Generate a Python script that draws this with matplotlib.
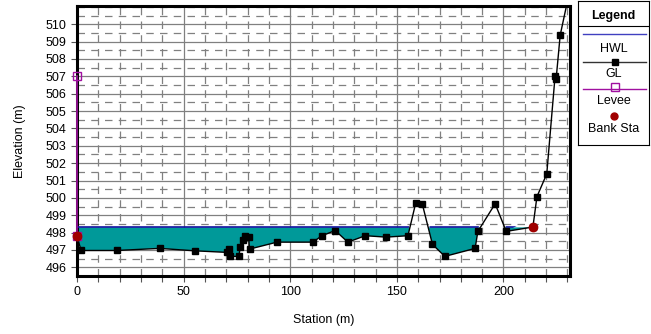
import matplotlib
matplotlib.use("Agg")
import matplotlib.pyplot as plt
from matplotlib.path import Path
from matplotlib.ticker import MultipleLocator
import numpy as np

plt.rcParams['font.family'] = ['Liberation Sans', 'DejaVu Sans']

# ground profile (station m, elevation m)
station = np.array([0, 1.9, 18.7, 38.7, 55.3, 70.3, 71.1, 71.6, 75.9, 76.6, 77.8, 79.0,
                    80.5, 80.9, 93.8, 110.6, 114.9, 121.1, 127.0, 135.2, 145.0, 155.2,
                    158.9, 161.9, 166.7, 172.5, 186.7, 188.0, 196.1, 201.3, 213.8, 215.7,
                    220.3, 224.2, 224.7, 226.6, 231.0])
ground = np.array([497.8, 496.97, 496.97, 497.09, 496.95, 496.86, 497.07, 496.63, 496.63,
                   497.17, 497.55, 497.82, 497.74, 497.05, 497.45, 497.45, 497.82, 498.12,
                   497.45, 497.82, 497.74, 497.82, 499.73, 499.66, 497.32, 496.63, 497.09,
                   498.07, 499.66, 498.07, 498.32, 500.07, 501.38, 507.01, 506.86, 509.37,
                   511.9])

hwl = 498.3
hwl_sta = [0, 213.8]

levee_sta = [0, 0]
levee_elev = [497.8, 507.0]

bank_sta = [0, 213.8]
bank_elev = [497.8, 498.32]

yticks = np.arange(496, 511)

teal = '#009999'
blue = '#1010a0'
purple = '#a010a0'
red = '#a00000'

fig = plt.figure(figsize=(6.51, 3.34), dpi=100)
ax = fig.add_axes([77 / 651, 1 - 276 / 334, 493 / 651, 270 / 334])

ax.set_xlim(0, 231.2)
ax.set_ylim(495.52, 511.05)
ax.xaxis.set_major_locator(MultipleLocator(50))
ax.xaxis.set_minor_locator(MultipleLocator(10))
ax.set_yticks(yticks)
ax.set_yticks(np.arange(495.5, 511.1, 0.5), minor=True)
ax.grid(which='major', color='#808080', lw=0.9, ls='-')
ax.grid(which='minor', color='#808080', lw=0.9, ls=(0, (6, 5)))
ax.set_axisbelow(True)
ax.tick_params(which='both', direction='out', labelsize=9, width=0.8, color='#555555')
ax.tick_params(which='major', length=4)
ax.tick_params(axis='x', which='minor', length=4)
ax.tick_params(axis='y', which='minor', length=0)
for s in ax.spines.values():
    s.set_linewidth(2.2)

# water
water = ax.fill_between(station, ground, hwl, where=ground < hwl, interpolate=True,
                        color=teal, lw=0, zorder=2)
hw_line, = ax.plot(hwl_sta, [hwl, hwl], color=blue, lw=1.2, zorder=3)
clips = []
for p in water.get_paths():
    v = p.vertices.copy()
    v[:, 1] = np.where(np.isclose(v[:, 1], hwl), hwl + 0.5, v[:, 1])
    clips.append(Path(v, p.codes))
hw_line.set_clip_path(Path.make_compound_path(*clips), ax.transData)

ax.plot(station, ground, color='black', lw=1, marker='s', ms=5, zorder=4)
ax.plot(levee_sta, levee_elev, color=purple, lw=1.2, marker='s', ms=6, mfc='none',
        mec=purple, zorder=5, clip_on=False)
ax.plot(bank_sta, bank_elev, ls='none', marker='o', ms=6, color=red, zorder=6,
        clip_on=False)

ax.set_xlabel('Station (m)', fontsize=9, labelpad=11)
ax.set_ylabel('Elevation (m)', fontsize=9, labelpad=14)

# legend box
lg = fig.add_axes([578 / 651, 1 - 145 / 334, 71 / 651, 144 / 334])
lg.set_xlim(0, 71)
lg.set_ylim(144, 0)
lg.set_xticks([])
lg.set_yticks([])
for s in lg.spines.values():
    s.set_linewidth(0.8)
lg.axhline(25, color='black', lw=0.8)
lg.text(35.5, 15, 'Legend', ha='center', va='center', fontsize=9, fontweight='bold')
lg.plot([5, 68], [33, 33], color='#4040c0', lw=1)
lg.text(35.5, 48, 'HWL', ha='center', va='center', fontsize=9)
lg.plot([5, 68], [61, 61], color='#333333', lw=1)
lg.plot([36.5], [61], marker='s', ms=5, color='black')
lg.text(35.5, 73, 'GL', ha='center', va='center', fontsize=9)
lg.plot([5, 68], [88, 88], color=purple, lw=1)
lg.plot([36.5], [86], marker='s', ms=6, mfc='none', mec=purple)
lg.text(35.5, 100, 'Levee', ha='center', va='center', fontsize=9)
lg.plot([35.5], [115], marker='o', ms=5, color=red)
lg.text(35.5, 128, 'Bank Sta', ha='center', va='center', fontsize=9)

fig.savefig('out.png', dpi=100)
